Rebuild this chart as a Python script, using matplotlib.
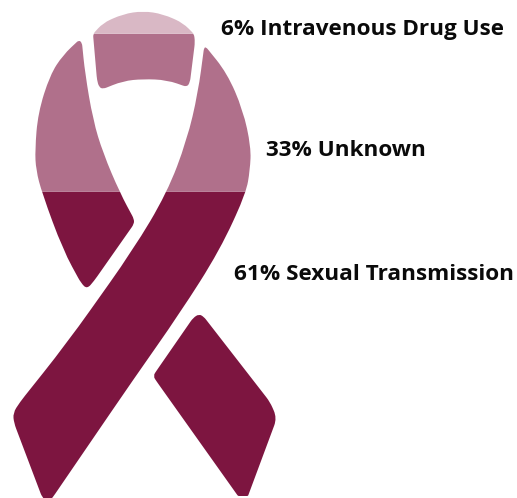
import numpy as np
import matplotlib
matplotlib.use("Agg")
import matplotlib.pyplot as plt
from matplotlib.path import Path
from matplotlib.patches import PathPatch
from matplotlib.transforms import Bbox

# Data
categories = ["Sexual Transmission", "Unknown", "Intravenous Drug Use"]
shares = [61, 33, 6]
colors = ["#7D1540", "#B0708B", "#D9B8C5"]

# Ribbon silhouette outlines (pixel x, pixel y, corner radius)
left_collar = [(79, 40, 3), (82, 43, 3), (85, 73, 30), (93, 120, 30), (103, 153, 30), (120, 193, 30),
               (134, 219, 4), (134, 224, 4), (94, 281, 6), (87, 289, 6), (81, 283, 6), (63, 250, 30),
               (42, 193, 30), (36, 170, 12), (35, 150, 20), (38, 113, 30), (50, 75, 20), (63, 55, 16)]
main_band = [(206, 47, 3), (227, 73, 25), (243, 110, 25), (251, 147, 25), (250, 170, 15), (246, 193, 25),
             (220, 250, 40), (180, 313, 40), (133, 380, 40), (53, 497, 4), (48, 503, 4), (42, 497, 4),
             (14, 423, 6), (13, 413, 6), (20, 402, 8), (67, 343, 40), (133, 250, 40), (167, 193, 40),
             (187, 140, 35), (198, 93, 30), (204, 48, 3)]
top_loop = [(93, 34, 3), (103, 23, 8), (123, 14, 12), (143, 11, 12), (163, 14, 12), (183, 23, 8), (194, 34, 3),
            (195, 42, 5), (190, 82, 4), (187, 87, 4), (167, 80, 15), (143, 79, 15), (123, 81, 15),
            (103, 89, 4), (99, 87, 4), (97, 80, 4)]
right_tail = [(199, 314, 5), (204, 317, 3), (270, 402, 6), (277, 418, 8), (248, 496, 1), (238, 496, 1),
              (157, 382, 4), (153, 376, 4), (157, 370, 4), (193, 318, 4)]
pieces = [left_collar, main_band, top_loop, right_tail]

W, H = 517, 498
PX_PER_PCT = 4.79
BASE_PX = 484


def to_pct(py):
    return (BASE_PX - py) / PX_PER_PCT


def rounded(points):
    n = len(points)
    verts, codes = [], []
    for i in range(n):
        prev = np.array(points[i - 1][:2], float)
        cur = np.array(points[i][:2], float)
        nxt = np.array(points[(i + 1) % n][:2], float)
        radius = points[i][2]
        d1, d2 = prev - cur, nxt - cur
        l1, l2 = np.hypot(*d1), np.hypot(*d2)
        a = cur + d1 / l1 * min(radius, l1 / 2)
        b = cur + d2 / l2 * min(radius, l2 / 2)
        verts.append(a)
        codes.append(Path.MOVETO if i == 0 else Path.LINETO)
        verts += [cur, b]
        codes += [Path.CURVE3, Path.CURVE3]
    verts.append(verts[0])
    codes.append(Path.CLOSEPOLY)
    return Path(np.array(verts), codes)


polygons = []
for piece in pieces:
    for poly in rounded(piece).to_polygons():
        poly = np.array(poly, float)
        poly[:, 1] = to_pct(poly[:, 1])
        polygons.append(poly)

fig = plt.figure(figsize=(W / 100, H / 100), dpi=100)
ax = fig.add_axes([0, 0, 1, 1])
ax.set_xlim(0, W)
ax.set_ylim(to_pct(H), to_pct(0))
ax.axis("off")

# Each share fills its slice of the ribbon, measured from the ribbon's foot upward
tops = np.cumsum(shares)
bottoms = tops - np.array(shares)
for i, (low, high, color) in enumerate(zip(bottoms, tops, colors)):
    lo = -50 if i == 0 else low
    hi = 200 if i == len(shares) - 1 else high
    box = Bbox([[-10, lo], [W + 10, hi]])
    for poly in polygons:
        part = Path(poly, closed=True).clip_to_bbox(box)
        if len(part.vertices):
            ax.add_patch(PathPatch(part, facecolor=color, edgecolor="none", zorder=1))

label_x = [234, 266, 221]
label_y = [274, 151, 29]
for cat, share, x, y in zip(categories, shares, label_x, label_y):
    ax.text(x, to_pct(y), f"{share}% {cat}", fontsize=16.2, fontweight="bold", family="Open Sans",
            color="#0A0A0A", ha="left", va="center", zorder=3)

fig.savefig("out.png", dpi=100)
